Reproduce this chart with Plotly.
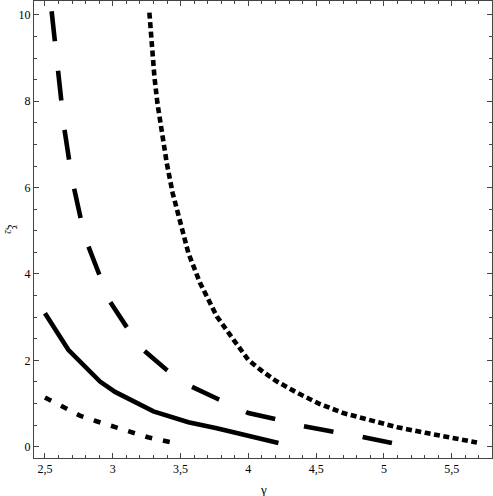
import math
import plotly.graph_objects as go

# Data
dot_x = [2.5, 2.635, 2.758, 2.88, 3.017, 3.14, 3.26, 3.42]
dot_y = [1.14, 0.93, 0.72, 0.59, 0.45, 0.33, 0.22, 0.11]

solid_x = [2.5, 2.672, 2.906, 3.017, 3.3, 3.558, 3.767, 4.0, 4.222]
solid_y = [3.09, 2.245, 1.51, 1.27, 0.82, 0.57, 0.43, 0.24, 0.085]

dash_x = [2.549, 2.574, 2.591, 2.616, 2.643, 2.677, 2.714, 2.763, 2.82, 2.899,
          2.98, 3.103, 3.225, 3.398, 3.57, 3.779, 4.0, 4.2, 4.394, 4.628, 4.825, 5.059]
dash_y = [10.08, 9.38, 8.73, 8.03, 7.36, 6.66, 5.99, 5.29, 4.64, 4.0,
          3.36, 2.77, 2.245, 1.78, 1.41, 1.10, 0.78, 0.64, 0.486, 0.347, 0.24, 0.085]

fine_x = [3.27, 3.287, 3.307, 3.329, 3.361, 3.398, 3.442, 3.496, 3.558, 3.644,
          3.767, 3.89, 4.0, 4.09, 4.2, 4.36, 4.52, 4.7, 4.92, 5.1, 5.317, 5.5, 5.686]
fine_y = [10.05, 9.34, 8.57, 7.96, 7.26, 6.57, 5.87, 5.18, 4.48, 3.79,
          3.02, 2.48, 2.01, 1.78, 1.53, 1.25, 1.0, 0.78, 0.6, 0.45, 0.317, 0.2, 0.1]

x_tickvals = [2.5, 3, 3.5, 4, 4.5, 5, 5.5]
x_ticktext = ["2,5", "3", "3,5", "4", "4,5", "5", "5,5"]
y_tickvals = [0, 2, 4, 6, 8, 10]
y_ticktext = ["0", "2", "4", "6", "8", "10"]

W, H = 493, 496
ML, MR, MT, MB = 34, 1, 1, 38
XR = [2.419, 5.797]
YR = [-0.26, 10.32]
SX = (W - ML - MR) / (XR[1] - XR[0])
SY = (H - MT - MB) / (YR[1] - YR[0])


def dash_pattern(xs, ys, dash, period):
    """Pick a gap so the dashed line starts and ends on a dash."""
    L = sum(math.hypot((xs[i + 1] - xs[i]) * SX, (ys[i + 1] - ys[i]) * SY)
            for i in range(len(xs) - 1))
    n = max(2, round((L + period - dash) / period))
    gap = (L - n * dash) / (n - 1)
    return f"{dash}px,{gap:.2f}px"


FONT = "Liberation Serif, Times New Roman, serif"
LW = 4.6
fig = go.Figure()
fig.add_trace(go.Scatter(x=dot_x, y=dot_y, mode="lines",
                         line=dict(color="black", width=LW,
                                   dash=dash_pattern(dot_x, dot_y, 7, 18))))
fig.add_trace(go.Scatter(x=solid_x, y=solid_y, mode="lines",
                         line=dict(color="black", width=LW)))
fig.add_trace(go.Scatter(x=dash_x, y=dash_y, mode="lines",
                         line=dict(color="black", width=LW,
                                   dash=dash_pattern(dash_x, dash_y, 30, 58))))
fig.add_trace(go.Scatter(x=fine_x, y=fine_y, mode="lines",
                         line=dict(color="black", width=LW,
                                   dash=dash_pattern(fine_x, fine_y, 6, 9.5))))

axis_common = dict(
    showgrid=False, zeroline=False, showline=True, linecolor="#444", linewidth=1,
    mirror="allticks", ticks="inside", ticklen=5, tickcolor="#444", tickwidth=1,
    tickfont=dict(family=FONT, size=12, color="black"), automargin=False,
)
fig.update_xaxes(range=XR, tickvals=x_tickvals, ticktext=x_ticktext,
                 minor=dict(dtick=0.1, tick0=0, ticks="inside", ticklen=3, tickcolor="#444"),
                 **axis_common)
fig.update_yaxes(range=YR, tickvals=y_tickvals, ticktext=y_ticktext,
                 minor=dict(dtick=0.5, tick0=0, ticks="inside", ticklen=3, tickcolor="#444"),
                 **axis_common)
fig.add_annotation(text="γ", xref="paper", yref="paper", x=0.5, y=-0.07,
                   showarrow=False, yanchor="middle",
                   font=dict(family=FONT, size=13, color="black"))
fig.add_annotation(text="ξ<sub>2</sub>", xref="paper", yref="paper", x=-0.072, y=0.5,
                   showarrow=False, textangle=90,
                   font=dict(family=FONT, size=12, color="black"))
fig.update_layout(width=W, height=H, margin=dict(l=ML, r=MR, t=MT, b=MB),
                  plot_bgcolor="white", paper_bgcolor="white", showlegend=False)
fig.write_html("out.html", config={"displayModeBar": False},
               post_script="document.body.style.margin='0';document.body.style.padding='0';")
